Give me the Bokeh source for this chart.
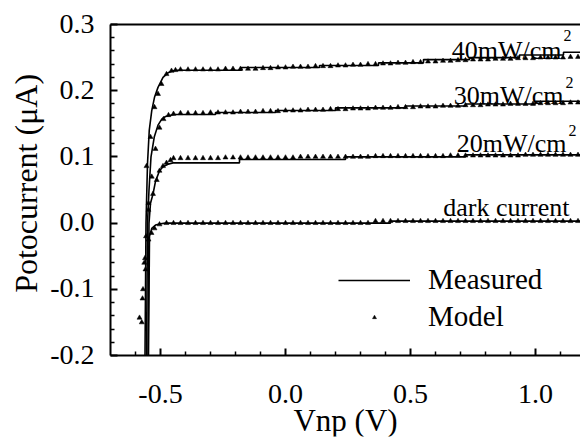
from bokeh.plotting import figure
from bokeh.models import (Range1d, FixedTicker, CustomJSTickFormatter, LinearAxis,
                          Legend, LegendItem, Label, ColumnDataSource)
from bokeh.core.properties import value
from bokeh.embed import file_html
from bokeh.resources import INLINE
import math

FONT = "'Liberation Serif', 'Times New Roman', serif"

# ---------------- data ----------------
# shared voltage grid of the model points in the saturated region (V)
grid_v = [-0.42, -0.39, -0.36, -0.33, -0.30, -0.27, -0.24, -0.21, -0.18, -0.15, -0.12,
          -0.09, -0.06, -0.03, 0.00, 0.03, 0.06, 0.09, 0.12, 0.15, 0.18,
          0.21, 0.24, 0.27, 0.30, 0.33, 0.36, 0.39, 0.42, 0.45, 0.48,
          0.51, 0.54, 0.57, 0.60, 0.63, 0.66, 0.69, 0.72, 0.75, 0.78,
          0.81, 0.84, 0.87, 0.90, 0.93, 0.96, 0.99, 1.02, 1.05, 1.08,
          1.11, 1.14, 1.17, 1.20]

# model, 40 mW/cm2
model40_rise_v = [-0.575, -0.565, -0.556, -0.54, -0.524, -0.51, -0.496, -0.476, -0.456, -0.44]
model40_rise_i = [-0.15, -0.06, 0.086, 0.13, 0.175, 0.195, 0.21, 0.225, 0.23, 0.231]
model40_flat_i = [0.232, 0.232, 0.232, 0.232, 0.232, 0.232, 0.233, 0.233, 0.233, 0.233, 0.233,
                  0.234, 0.234, 0.235, 0.235, 0.236, 0.236, 0.236, 0.237, 0.237, 0.237,
                  0.238, 0.238, 0.239, 0.239, 0.240, 0.240, 0.241, 0.241, 0.242, 0.242,
                  0.243, 0.243, 0.244, 0.244, 0.245, 0.245, 0.246, 0.246, 0.247, 0.247,
                  0.247, 0.248, 0.248, 0.248, 0.249, 0.249, 0.249, 0.250, 0.250, 0.250,
                  0.250, 0.251, 0.251, 0.251]

# model, 30 mW/cm2
model30_rise_v = [-0.57, -0.558, -0.548, -0.535, -0.52, -0.504, -0.488, -0.468, -0.448]
model30_rise_i = [-0.10, -0.02, 0.03, 0.07, 0.112, 0.144, 0.157, 0.163, 0.165]
model30_flat_i = [0.166, 0.166, 0.166, 0.166, 0.167, 0.167, 0.167, 0.167, 0.168, 0.168, 0.168,
                  0.169, 0.169, 0.169, 0.170, 0.170, 0.170, 0.171, 0.171, 0.171, 0.172,
                  0.172, 0.172, 0.173, 0.173, 0.173, 0.174, 0.174, 0.174, 0.175, 0.175,
                  0.175, 0.176, 0.176, 0.176, 0.177, 0.177, 0.177, 0.178, 0.178, 0.178,
                  0.179, 0.179, 0.179, 0.180, 0.180, 0.180, 0.180, 0.181, 0.181, 0.181,
                  0.181, 0.182, 0.182, 0.182]

# model, 20 mW/cm2
model20_rise_v = [-0.56, -0.548, -0.53, -0.515, -0.504, -0.49, -0.476, -0.46, -0.448]
model20_rise_i = [-0.07, 0.02, 0.044, 0.065, 0.079, 0.086, 0.091, 0.095, 0.098]
model20_flat_i = [0.098, 0.098, 0.098, 0.098, 0.098, 0.098, 0.099, 0.099, 0.099, 0.099, 0.099,
                  0.099, 0.099, 0.099, 0.099, 0.099, 0.100, 0.100, 0.100, 0.100, 0.100,
                  0.100, 0.100, 0.100, 0.100, 0.100, 0.101, 0.101, 0.101, 0.101, 0.101,
                  0.101, 0.101, 0.101, 0.101, 0.101, 0.102, 0.102, 0.102, 0.102, 0.102,
                  0.102, 0.102, 0.102, 0.102, 0.102, 0.103, 0.103, 0.103, 0.103, 0.103,
                  0.103, 0.103, 0.103, 0.103]

# model, dark current
model0_rise_v = [-0.584, -0.572, -0.562, -0.548, -0.536, -0.524, -0.504, -0.476, -0.448]
model0_rise_i = [-0.143, -0.114, -0.053, -0.025, -0.015, -0.008, -0.002, 0.0, 0.0]
model0_flat_i = [0.0, 0.0, 0.0, 0.0, 0.0, 0.0, 0.0, 0.0, 0.0, 0.0, 0.0,
                 0.0, 0.0, 0.0, 0.0, 0.0, 0.0, 0.0, 0.0, 0.0, 0.0,
                 0.0, 0.0, 0.0, 0.0, 0.0, 0.003, 0.003, 0.003, 0.003, 0.003,
                 0.003, 0.003, 0.003, 0.003, 0.003, 0.003, 0.003, 0.003, 0.003, 0.003,
                 0.003, 0.003, 0.003, 0.003, 0.003, 0.003, 0.003, 0.003, 0.003, 0.003,
                 0.003, 0.003, 0.003, 0.003]

# measured curves (V, uA)
meas40_v = [-0.562, -0.558, -0.552, -0.545, -0.535, -0.524, -0.51, -0.49, -0.47, -0.45, -0.43,
            -0.176, -0.176, 0.136, 0.136, 0.372, 0.372, 0.552, 0.552, 0.736, 0.736,
            0.936, 0.936, 1.112, 1.112, 1.2]
meas40_i = [-0.2, 0.0, 0.09, 0.14, 0.17, 0.19, 0.205, 0.22, 0.227, 0.23, 0.231,
            0.231, 0.235, 0.235, 0.238, 0.238, 0.242, 0.242, 0.247, 0.247, 0.250,
            0.250, 0.254, 0.254, 0.258, 0.258]

meas30_v = [-0.556, -0.552, -0.546, -0.538, -0.525, -0.51, -0.495, -0.48, -0.46, -0.44,
            -0.28, -0.28, -0.04, -0.04, 0.2, 0.2, 0.48, 0.48, 0.72, 0.72, 1.0, 1.0, 1.2]
meas30_i = [-0.2, 0.0, 0.05, 0.1, 0.13, 0.148, 0.157, 0.161, 0.163, 0.164,
            0.164, 0.167, 0.167, 0.170, 0.170, 0.174, 0.174, 0.177, 0.177, 0.180, 0.180, 0.184, 0.184]

meas20_v = [-0.55, -0.546, -0.54, -0.53, -0.52, -0.504, -0.49, -0.47, -0.45, -0.43,
            -0.184, -0.184, 0.24, 0.24, 0.72, 0.72, 1.2]
meas20_i = [-0.2, 0.0, 0.03, 0.044, 0.063, 0.079, 0.085, 0.089, 0.091, 0.091,
            0.091, 0.096, 0.096, 0.100, 0.100, 0.103, 0.103]

meas0_v = [-0.548, -0.544, -0.535, -0.52, -0.5, -0.48, 0.42, 0.42, 1.2]
meas0_i = [-0.2, -0.02, -0.008, -0.003, -0.001, 0.0, 0.0, 0.003, 0.003]

curve_labels = ["40mW/cm", "30mW/cm", "20mW/cm", "dark current"]
x_ticks = [-0.5, 0.0, 0.5, 1.0]
y_ticks = [-0.2, -0.1, 0.0, 0.1, 0.2, 0.3]
x_title = "Vnp (V)"
y_title = "Potocurrent (\u03bcA)"

# ---------------- figure ----------------
# axis box (data units) and the margin around it, in screen pixels
X0, X1, Y0, Y1 = -0.7, 1.18, -0.2, 0.3
PX_PER_V = 250.0
PX_PER_UA = 662.0
B = 4                      # border kept by Bokeh around the frame
LEFT, TOP, BOTTOM = 110, 24, 355   # screen position of the axis box
W, H = 580, 440
xr = Range1d(X0 - (LEFT - B) / PX_PER_V, X1)
yr = Range1d(Y0 - (H - B - BOTTOM) / PX_PER_UA, Y1 + (TOP - B) / PX_PER_UA)

p = figure(width=W, height=H, output_backend="svg", toolbar_location=None,
           x_range=xr, y_range=yr,
           min_border_left=B, min_border_right=0, min_border_top=B, min_border_bottom=B)
p.grid.visible = False
p.outline_line_color = None
p.background_fill_color = "white"
p.border_fill_color = "white"

measured = [(meas40_v, meas40_i), (meas30_v, meas30_i), (meas20_v, meas20_i), (meas0_v, meas0_i)]
models = [(model40_rise_v + grid_v, model40_rise_i + model40_flat_i),
          (model30_rise_v + grid_v, model30_rise_i + model30_flat_i),
          (model20_rise_v + grid_v, model20_rise_i + model20_flat_i),
          (model0_rise_v + grid_v, model0_rise_i + model0_flat_i)]

line_renderers = []
for v, i in measured:
    line_renderers.append(p.line(v, i, line_color="black", line_width=1.6))
marker_renderers = []
for v, i in models:
    marker_renderers.append(p.scatter(v, i, marker="triangle", size=5,
                                      fill_color="black", line_color="black", line_width=0.5))

# axes: Bokeh axes pinned to the axis box; tick texts drawn as serif text glyphs
minor_x = [-0.6, -0.4, -0.3, -0.2, -0.1, 0.1, 0.2, 0.3, 0.4, 0.6, 0.7, 0.8, 0.9, 1.1]
minor_y = [round(-0.2 + 0.02 * k, 2) for k in range(26) if k % 5 != 0]
blank = CustomJSTickFormatter(code="return '';")

for ax, ticks, minors, loc, bnds in [(p.xaxis[0], x_ticks, minor_x, Y0, (X0, X1)),
                                     (p.yaxis[0], y_ticks, minor_y, X0, (Y0, Y1))]:
    ax.ticker = FixedTicker(ticks=ticks, minor_ticks=minors)
    ax.formatter = blank
    ax.fixed_location = loc
    ax.bounds = bnds
    ax.axis_line_width = 2
    ax.axis_line_color = "black"
    ax.major_tick_in = 7
    ax.major_tick_out = 0
    ax.minor_tick_in = 4
    ax.minor_tick_out = 0
    ax.major_tick_line_width = 2
    ax.minor_tick_line_width = 1.5
    ax.major_label_text_font_size = "0px"
    ax.major_label_standoff = 0

top_axis = LinearAxis(ticker=FixedTicker(ticks=[]), formatter=blank, fixed_location=Y1,
                      bounds=(X0, X1), major_tick_line_color=None, minor_tick_line_color=None,
                      major_label_text_font_size="0px", major_label_standoff=0,
                      axis_line_width=2, axis_line_color="black")
p.add_layout(top_axis, "above")

# curve annotations
ann_x = [1.104, 1.112, 1.124, 1.136]
ann_y = [0.261, 0.193, 0.12, 0.0236]
sup_y = [0.283, 0.212, 0.14]
for k, txt in enumerate(curve_labels):
    p.add_layout(Label(x=ann_x[k], y=ann_y[k], text=txt, text_align="right",
                       text_baseline="alphabetic", text_font=FONT, text_font_size="26px",
                       text_font_style="normal", text_color="black"))
    if k < 3:
        p.add_layout(Label(x=ann_x[k] + 0.008, y=sup_y[k], text="2", text_align="left",
                           text_baseline="alphabetic", text_font=FONT, text_font_size="16px",
                           text_font_style="normal", text_color="black"))

legend = Legend(items=[LegendItem(label="Measured", renderers=[line_renderers[0]]),
                       LegendItem(label="Model", renderers=[marker_renderers[0]])],
                location=(338 - B, H - B - 333), orientation="vertical",
                border_line_color=None, background_fill_alpha=0,
                label_text_font=FONT, label_text_font_size="29px", label_text_color="black",
                glyph_width=72, glyph_height=10, label_height=33, spacing=4,
                padding=0, margin=0, label_standoff=18)
p.add_layout(legend)

# tick texts and axis titles as text glyphs (pixel gaps converted to data units)
xt_src = ColumnDataSource(dict(x=x_ticks, y=[Y0 - 38 / PX_PER_UA] * len(x_ticks),
                               t=[f"{t:.1f}" for t in x_ticks]))
p.text(x="x", y="y", text="t", source=xt_src, text_align="center", text_baseline="alphabetic",
       text_font=value(FONT), text_font_size=value("28px"), text_color="black")
yt_src = ColumnDataSource(dict(x=[X0 - 16 / PX_PER_V] * len(y_ticks),
                               y=[t + 1 / PX_PER_UA for t in y_ticks],
                               t=[f"{t:.1f}" for t in y_ticks]))
p.text(x="x", y="y", text="t", source=yt_src, text_align="right", text_baseline="middle",
       text_font=value(FONT), text_font_size=value("28px"), text_color="black")
p.text(x=[(X0 + X1) / 2], y=[Y0 - 65 / PX_PER_UA], text=[x_title], text_align="center",
       text_baseline="alphabetic", text_font=value(FONT), text_font_size=value("31px"),
       text_color="black")
p.text(x=[X0 - 85 / PX_PER_V], y=[0.06], text=[y_title], angle=math.pi / 2,
       text_align="center", text_baseline="middle", text_font=value(FONT),
       text_font_size=value("32px"), text_color="black")

open("out.html", "w").write(file_html(p, INLINE))
